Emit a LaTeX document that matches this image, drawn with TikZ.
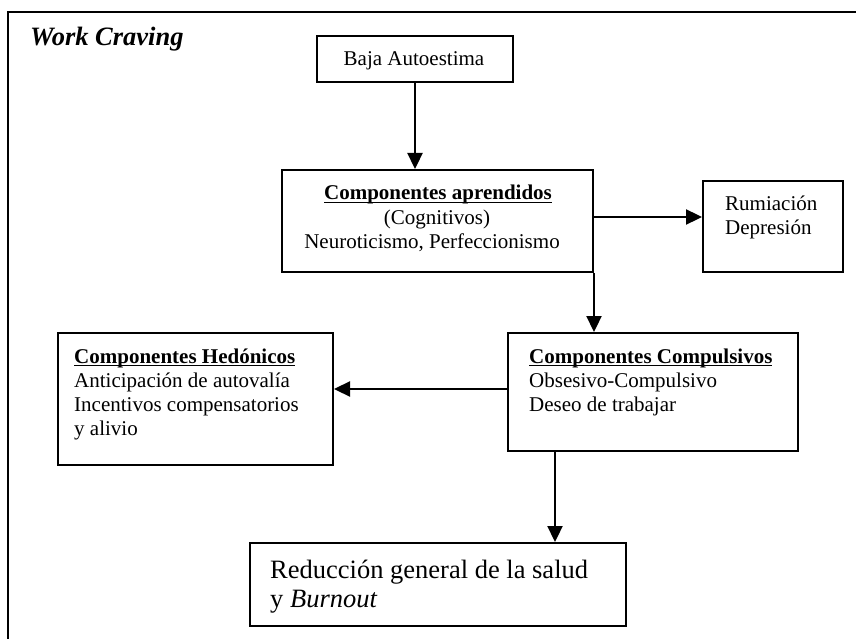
\documentclass[tikz,border=0pt]{standalone}
\usepackage{fontspec}
\setmainfont{Liberation Serif}
\usetikzlibrary{arrows.meta}
% bold heading with a rule just under the baseline
\newcommand\hdline[1]{\setbox0=\hbox{\bfseries #1}\rlap{\rule[-3pt]{\wd0}{1.4pt}}\box0}

\begin{document}
\begin{tikzpicture}[x=1pt,y=-1pt,
  box/.style={draw, line width=2pt, inner sep=0pt},
  arr/.style={line width=2.3pt, -{Triangle[width=15pt,length=16pt]}},
  txt/.style={inner sep=0pt, anchor=base west, font=\fontsize{21}{24}\selectfont},
  ctxt/.style={txt, anchor=base},
  bigtxt/.style={txt, font=\fontsize{26.5}{30}\selectfont},
]
\useasboundingbox (0,0) rectangle (856,639);

% outer frame
\draw[line width=2pt] (8,639) -- (8,12) -- (856,12);

% title
\node[txt, font=\fontsize{26.5}{30}\selectfont\bfseries\itshape] (title) at (30,46) {Work Craving};

% boxes
\node[box, minimum width=196pt, minimum height=46pt]  (baja)   at (415,59)    {};
\node[box, minimum width=311pt, minimum height=102pt] (aprend) at (437.5,221) {};
\node[box, minimum width=140pt, minimum height=91pt]  (rum)    at (773,226.5) {};
\node[box, minimum width=290pt, minimum height=118pt] (comp)   at (653,392)   {};
\node[box, minimum width=275pt, minimum height=132pt] (hed)    at (195.5,399) {};
\node[box, minimum width=376pt, minimum height=83pt]  (red)    at (438,584.5) {};

% box texts
\node[ctxt] (bajaT) at (414,66) {Baja Autoestima};

\node[ctxt] (apT1) at (438,200) {\hdline{Componentes aprendidos}};
\node[ctxt] (apT2) at (437,224) {(Cognitivos)};
\node[ctxt] (apT3) at (432,248) {Neuroticismo, Perfeccionismo};

\node[txt] (rumT1) at (725,210) {Rumiación};
\node[txt] (rumT2) at (725,234) {Depresión};

\node[txt] (compT1) at (529,363) {\hdline{Componentes Compulsivos}};
\node[txt] (compT2) at (529,387) {Obsesivo-Compulsivo};
\node[txt] (compT3) at (529,411) {Deseo de trabajar};

\node[txt] (hedT1) at (74,363) {\hdline{Componentes Hedónicos}};
\node[txt] (hedT2) at (74,387) {Anticipación de autovalía};
\node[txt] (hedT3) at (74,411) {Incentivos compensatorios};
\node[txt] (hedT4) at (74,435) {y alivio};

\node[bigtxt] (redT1) at (270,578) {Reducción general de la salud};
\node[bigtxt] (redT2) at (270,607) {y \textit{Burnout}};

% connectors
\draw[arr] (baja.south) -- (baja.south |- aprend.north);
\draw[arr] ([yshift=4pt]aprend.east) -- ([yshift=4pt]aprend.east -| rum.west);
\draw[arr] (aprend.south east) -- (aprend.south east |- comp.north);
\draw[arr] ([yshift=3pt]comp.west) -- ([yshift=3pt]comp.west -| hed.east);
\draw[arr] ([xshift=-98pt]comp.south) -- ([xshift=-98pt]comp.south |- red.north);
\end{tikzpicture}
\end{document}
